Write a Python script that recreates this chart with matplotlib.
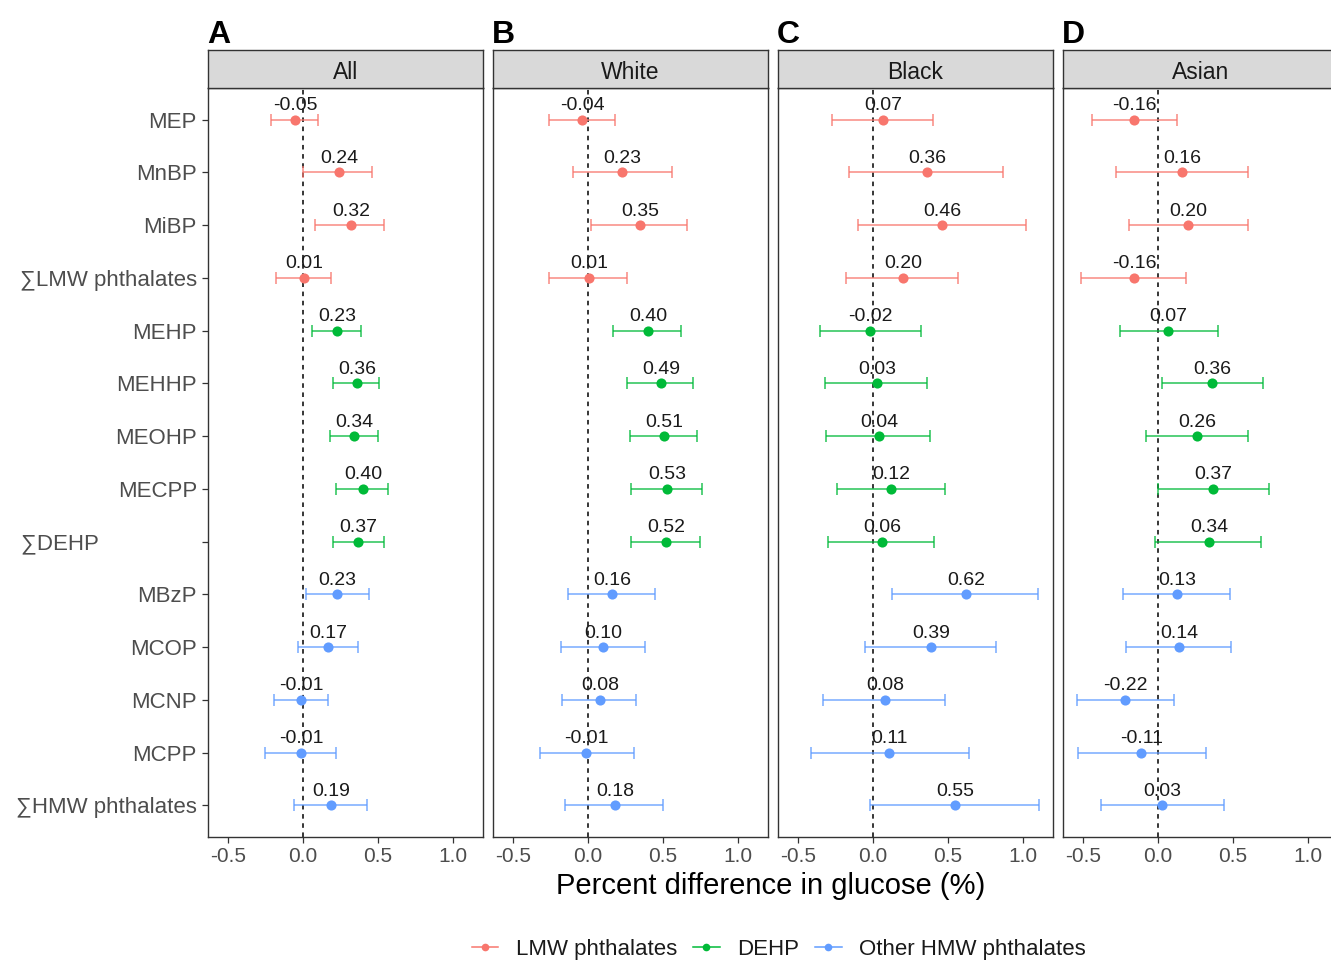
import matplotlib
matplotlib.use("Agg")
import matplotlib.pyplot as plt
from matplotlib.lines import Line2D

plt.rcParams['font.family'] = ['Liberation Sans', 'DejaVu Sans']

# Exposure biomarkers (top to bottom) and their group
metabolites = ["MEP", "MnBP", "MiBP", "\u2211LMW phthalates",
               "MEHP", "MEHHP", "MEOHP", "MECPP", "\u2211DEHP" + " " * 16,
               "MBzP", "MCOP", "MCNP", "MCPP", "\u2211HMW phthalates"]
groups = ["LMW phthalates"] * 4 + ["DEHP"] * 5 + ["Other HMW phthalates"] * 5

panels = ["All", "White", "Black", "Asian"]
panel_letters = ["A", "B", "C", "D"]

est_all = [-0.05, 0.24, 0.32, 0.01, 0.23, 0.36, 0.34, 0.40, 0.37, 0.23, 0.17, -0.01, -0.01, 0.19]
lo_all = [-0.21, 0.00, 0.08, -0.18, 0.06, 0.20, 0.18, 0.22, 0.20, 0.02, -0.03, -0.19, -0.25, -0.06]
hi_all = [0.10, 0.46, 0.54, 0.19, 0.39, 0.51, 0.50, 0.57, 0.54, 0.44, 0.37, 0.17, 0.22, 0.43]

est_white = [-0.04, 0.23, 0.35, 0.01, 0.40, 0.49, 0.51, 0.53, 0.52, 0.16, 0.10, 0.08, -0.01, 0.18]
lo_white = [-0.26, -0.10, 0.02, -0.26, 0.17, 0.26, 0.28, 0.29, 0.29, -0.13, -0.18, -0.17, -0.32, -0.15]
hi_white = [0.18, 0.56, 0.66, 0.26, 0.62, 0.70, 0.73, 0.76, 0.75, 0.45, 0.38, 0.32, 0.31, 0.50]

est_black = [0.07, 0.36, 0.46, 0.20, -0.02, 0.03, 0.04, 0.12, 0.06, 0.62, 0.39, 0.08, 0.11, 0.55]
lo_black = [-0.27, -0.16, -0.10, -0.18, -0.35, -0.32, -0.31, -0.24, -0.30, 0.13, -0.05, -0.33, -0.41, -0.02]
hi_black = [0.40, 0.87, 1.02, 0.57, 0.32, 0.36, 0.38, 0.48, 0.41, 1.10, 0.82, 0.48, 0.64, 1.11]

est_asian = [-0.16, 0.16, 0.20, -0.16, 0.07, 0.36, 0.26, 0.37, 0.34, 0.13, 0.14, -0.22, -0.11, 0.03]
lo_asian = [-0.44, -0.28, -0.19, -0.51, -0.25, 0.03, -0.08, 0.00, -0.02, -0.23, -0.21, -0.54, -0.53, -0.38]
hi_asian = [0.13, 0.60, 0.60, 0.19, 0.40, 0.70, 0.60, 0.74, 0.69, 0.48, 0.49, 0.11, 0.32, 0.44]

x_ticks = [-0.5, 0.0, 0.5, 1.0]
x_ticklabels = ["-0.5", "0.0", "0.5", "1.0"]

colors = {"LMW phthalates": "#F8766D", "DEHP": "#00BA38", "Other HMW phthalates": "#619CFF"}

series = [(est_all, lo_all, hi_all), (est_white, lo_white, hi_white),
          (est_black, lo_black, hi_black), (est_asian, lo_asian, hi_asian)]

W, H = 1331, 963
fig = plt.figure(figsize=(W / 100, H / 100), dpi=100)

panel_lefts = [208, 493, 778, 1063]
panel_w = 275
panel_top, panel_bot = 88, 837
strip_top = 50
border = "#333333"

for p, (name, letter, (est, lo, hi)) in enumerate(zip(panels, panel_letters, series)):
    left = panel_lefts[p]
    ax = fig.add_axes([left / W, 1 - panel_bot / H, panel_w / W, (panel_bot - panel_top) / H])
    ax.axvline(0, color="black", lw=1.1, ls=(0, (3, 3)), zorder=1)
    for i, m in enumerate(metabolites):
        c = colors[groups[i]]
        ax.errorbar([est[i]], [i], xerr=[[est[i] - lo[i]], [hi[i] - est[i]]],
                    fmt="none", ecolor=c, elinewidth=1.1, capsize=4, capthick=1.1,
                    alpha=0.85, zorder=2)
        ax.plot([est[i]], [i], "o", color=c, ms=7.3, mec="none", zorder=3)
        ax.annotate(f"{est[i]:.2f}", (est[i], i), xytext=(0, 10), textcoords="offset points",
                    ha="center", va="center", fontsize=14, color="#1A1A1A", zorder=4)
    ax.set_xlim(-0.633, 1.2)
    ax.set_ylim(len(metabolites) - 0.4, -0.6)
    ax.set_xticks(x_ticks)
    ax.set_xticklabels(x_ticklabels)
    ax.set_yticks(range(len(metabolites)))
    if p == 0:
        ax.set_yticklabels(metabolites)
    else:
        ax.tick_params(axis="y", left=False, labelleft=False)
    ax.tick_params(axis="both", colors=border, labelcolor="#4D4D4D", length=4, width=0.9)
    ax.tick_params(axis="x", labelsize=15, pad=3)
    ax.tick_params(axis="y", labelsize=16, pad=4)
    for s in ax.spines.values():
        s.set_color(border)
        s.set_linewidth(1.0)

    sax = fig.add_axes([left / W, 1 - panel_top / H, panel_w / W, (panel_top - strip_top) / H])
    sax.set_facecolor("#D9D9D9")
    sax.set_xticks([])
    sax.set_yticks([])
    for s in sax.spines.values():
        s.set_color(border)
        s.set_linewidth(1.0)
    sax.text(0.5, 0.42, name, ha="center", va="center", fontsize=16.5, color="#1A1A1A",
             transform=sax.transAxes)

    fig.text((left - 1) / W, 1 - 43 / H, letter, ha="left", va="baseline",
             fontsize=23, fontweight="bold", color="black")

fig.text(771 / W, 1 - 886 / H, "Percent difference in glucose (%)", ha="center", va="center",
         fontsize=21, color="black")

handles = [Line2D([0], [0], color=colors[g], marker="o", ms=5.5, lw=1.1, mec="none")
           for g in ["LMW phthalates", "DEHP", "Other HMW phthalates"]]
fig.legend(handles, ["LMW phthalates", "DEHP", "Other HMW phthalates"], loc="center",
           bbox_to_anchor=(779 / W, 1 - 949 / H), ncol=3, frameon=False, fontsize=16,
           handlelength=1.2, handletextpad=0.8, columnspacing=0.7,
           labelcolor="#1A1A1A")

fig.savefig("out.png", dpi=100)
